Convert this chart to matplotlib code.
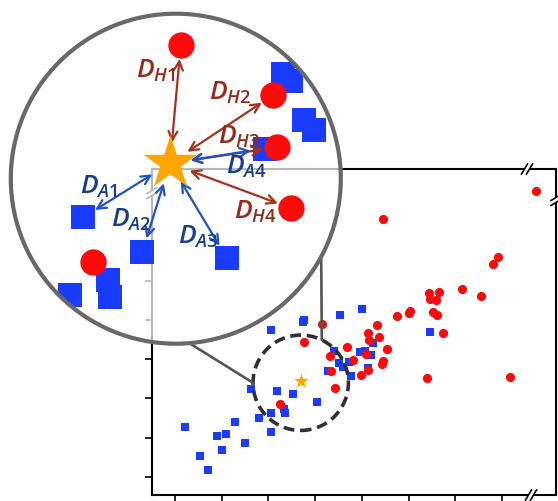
import numpy as np
import matplotlib
matplotlib.use("Agg")
import matplotlib.pyplot as plt
from matplotlib.patches import Circle, Ellipse, ConnectionPatch

plt.rcParams['mathtext.fontset'] = 'custom'
plt.rcParams['mathtext.it'] = 'Open Sans:italic:semibold'
plt.rcParams['mathtext.rm'] = 'Open Sans:semibold'

# ---------------- main scatter data ----------------
red_x = [8.724, 5.448, 7.916, 7.816, 7.139, 7.559, 6.445, 6.659, 6.460, 6.589,
         6.032, 6.017, 5.747, 6.518, 6.604, 6.745, 5.332, 5.139, 5.375, 5.161,
         4.154, 3.762, 4.677, 5.540, 4.319, 5.084, 4.818, 5.454, 5.439, 4.340,
         5.126, 4.976, 4.426, 6.390, 8.173, 3.248]
red_y = [8.277, 7.565, 6.606, 6.412, 5.784, 5.606, 5.674, 5.700, 5.522, 5.504,
         5.232, 5.181, 5.104, 5.191, 5.115, 4.656, 4.875, 4.672, 4.570, 4.486,
         4.885, 4.443, 4.308, 4.265, 4.087, 4.130, 3.969, 3.952, 3.883, 3.697,
         3.723, 3.588, 3.257, 3.519, 3.552, 2.866]
blue_x = [5.004, 4.527, 3.769, 3.741, 3.056, 6.467, 5.240, 4.411, 4.961, 5.075,
          5.191, 4.518, 4.604, 4.719, 4.270, 4.775, 5.126, 2.627, 3.184, 3.527,
          4.041, 3.334, 3.349, 3.056, 2.792, 2.291, 1.208, 2.098, 1.899, 3.056,
          2.493, 2.006, 1.542, 1.700]
blue_y = [5.282, 5.130, 4.995, 4.936, 4.748, 4.690, 4.417, 4.206, 4.188, 4.214,
          4.104, 3.908, 3.807, 3.934, 3.690, 3.578, 3.766, 3.247, 3.196, 3.112,
          2.901, 2.723, 2.621, 2.621, 2.509, 2.399, 2.280, 2.094, 2.036, 2.153,
          1.865, 1.679, 1.527, 1.170]
star_x, star_y = 3.692, 3.450
focus_x, focus_y = 3.692, 3.399          # centre of dashed neighbourhood
x_ticks = [1, 2, 3, 4, 5, 6, 7, 8]
y_ticks = [1, 2, 3, 4, 5, 6, 7]

# ---------------- magnified (inset) data ----------------
in_star = (-0.035, 0.093)
in_red_u = [0.030, 0.591, 0.612, 0.698, -0.500]
in_red_v = [0.810, 0.507, 0.190, -0.179, -0.507]
in_blue_u = [-0.561, -0.203, 0.308, 0.538, 0.652, 0.698, 0.778, 0.839, -0.409, -0.399, -0.641]
in_blue_v = [-0.234, -0.442, -0.479, 0.183, 0.633, 0.592, 0.356, 0.295, -0.614, -0.715, -0.705]
h_labels = ['H1', 'H2', 'H3', 'H4']
h_label_u = [-0.123, 0.332, 0.386, 0.483]
h_label_v = [0.653, 0.519, 0.256, -0.202]
a_labels = ['A1', 'A2', 'A3', 'A4']
a_label_u = [-0.468, -0.268, 0.138, 0.428]
a_label_v = [-0.050, -0.250, -0.353, 0.071]

RED = '#ff0a0a'
BLUE = '#1a3cff'
ORANGE = '#ffa500'
H_ARROW = '#a8301c'
H_TEXT = '#972a18'
A_ARROW = '#1f52c4'
A_TEXT = '#173f86'

W, H = 558, 501
fig = plt.figure(figsize=(W / 100, H / 100), dpi=100)
fig.patch.set_facecolor('white')

# ---------------- main axes ----------------
ax_l, ax_b, ax_w, ax_h = 152, 6, 404, 326
ax = fig.add_axes([ax_l / W, ax_b / H, ax_w / W, ax_h / H])
ax.set_xlim(0.5075, 9.158)
ax.set_ylim(0.542, 8.84)
ax.set_xticks(x_ticks)
ax.set_yticks(y_ticks)
ax.set_xticklabels([])
ax.set_yticklabels([])
ax.tick_params(direction='out', length=5, width=1.2, color='black')
for s in ax.spines.values():
    s.set_linewidth(1.5)
    s.set_color('black')

ax.scatter(blue_x, blue_y, marker='s', s=26, color=BLUE, linewidths=0, zorder=3)
ax.scatter(red_x, red_y, marker='o', s=44, color=RED, linewidths=0, zorder=4)
ax.scatter([star_x], [star_y], marker='*', s=130, color=ORANGE, linewidths=0, zorder=5)

rx, ry = 47.7 / 46.7, 47.7 / 39.3
ax.add_patch(Ellipse((focus_x, focus_y), 2 * rx, 2 * ry, fill=False, ec='#303030',
                     lw=2.6, linestyle=(0, (3.0, 1.6)), zorder=6))

# axis break marks
def brk(xf, yf, horizontal):
    sx, sy = 1.0 / ax_w, 1.0 / ax_h
    if horizontal:
        ax.plot([xf - 3 * sx, xf + 3 * sx], [yf, yf], color='white', lw=3,
                transform=ax.transAxes, clip_on=False, zorder=10, solid_capstyle='butt')
        for d in (-2.5, 2.5):
            ax.plot([xf + (d - 3) * sx, xf + (d + 3) * sx], [yf - 5 * sy, yf + 5 * sy],
                    color='black', lw=1.2, transform=ax.transAxes, clip_on=False, zorder=11)
    else:
        ax.plot([xf, xf], [yf - 3 * sy, yf + 3 * sy], color='white', lw=3,
                transform=ax.transAxes, clip_on=False, zorder=10, solid_capstyle='butt')
        for d in (-2.5, 2.5):
            ax.plot([xf - 5 * sx, xf + 5 * sx], [yf + (d - 3) * sy, yf + (d + 3) * sy],
                    color='black', lw=1.2, transform=ax.transAxes, clip_on=False, zorder=11)

brk((527 - ax_l) / ax_w, 1.0, True)
brk((531 - ax_l) / ax_w, 0.0, True)
brk(1.0, (H - ax_b - 200) / ax_h, False)
brk(0.0, (H - ax_b - 193) / ax_h, False)

# ---------------- inset (magnified view) ----------------
cx, cy, R = 175.8, 178.7, 165
ins = fig.add_axes([(cx - R) / W, (H - cy - R) / H, 2 * R / W, 2 * R / H])
ins.set_zorder(5)
ins.set_xlim(-1, 1)
ins.set_ylim(-1, 1)
ins.axis('off')

disk = Circle((0, 0), 1, fc='white', ec='none', alpha=0.72, zorder=0)
ins.add_patch(disk)
clipc = Circle((0, 0), 1, transform=ins.transData)

sb = ins.scatter(in_blue_u, in_blue_v, marker='s', s=300, color=BLUE, linewidths=0, zorder=2)
sb.set_clip_path(clipc)
sr = ins.scatter(in_red_u, in_red_v, marker='o', s=360, color=RED, linewidths=0, zorder=3)
sr.set_clip_path(clipc)

for i, lab in enumerate(h_labels):
    ins.annotate('', xy=(in_red_u[i], in_red_v[i]), xytext=in_star,
                 arrowprops=dict(arrowstyle='<->', color=H_ARROW, lw=1.6,
                                 shrinkA=15, shrinkB=10, mutation_scale=16), zorder=4)
    ins.text(h_label_u[i], h_label_v[i], r'$D_{%s}$' % lab, color=H_TEXT,
             fontsize=19, ha='center', va='center', zorder=6)
for i, lab in enumerate(a_labels):
    ins.annotate('', xy=(in_blue_u[i], in_blue_v[i]), xytext=in_star,
                 arrowprops=dict(arrowstyle='<->', color=A_ARROW, lw=1.6,
                                 shrinkA=15, shrinkB=10, mutation_scale=16), zorder=4)
    ins.text(a_label_u[i], a_label_v[i], r'$D_{%s}$' % lab, color=A_TEXT,
             fontsize=19, ha='center', va='center', zorder=6)

ins.scatter([in_star[0]], [in_star[1]], marker='*', s=1650, color=ORANGE,
            linewidths=0, zorder=5)
ins.add_patch(Circle((0, 0), 1, fill=False, ec='#686868', lw=3, clip_on=False, zorder=7))

# connectors between the dashed neighbourhood and the magnified circle
for ang_in, ang_main in ((-85.3, 180.0), (-28.2, 63.8)):
    a1, a2 = np.deg2rad(ang_in), np.deg2rad(ang_main)
    cp = ConnectionPatch(xyA=(np.cos(a1), np.sin(a1)), coordsA=ins.transData,
                         xyB=(focus_x + rx * np.cos(a2), focus_y + ry * np.sin(a2)),
                         coordsB=ax.transData, color='#555555', lw=1.9, zorder=4)
    fig.add_artist(cp)

fig.savefig('out.png', dpi=100)
